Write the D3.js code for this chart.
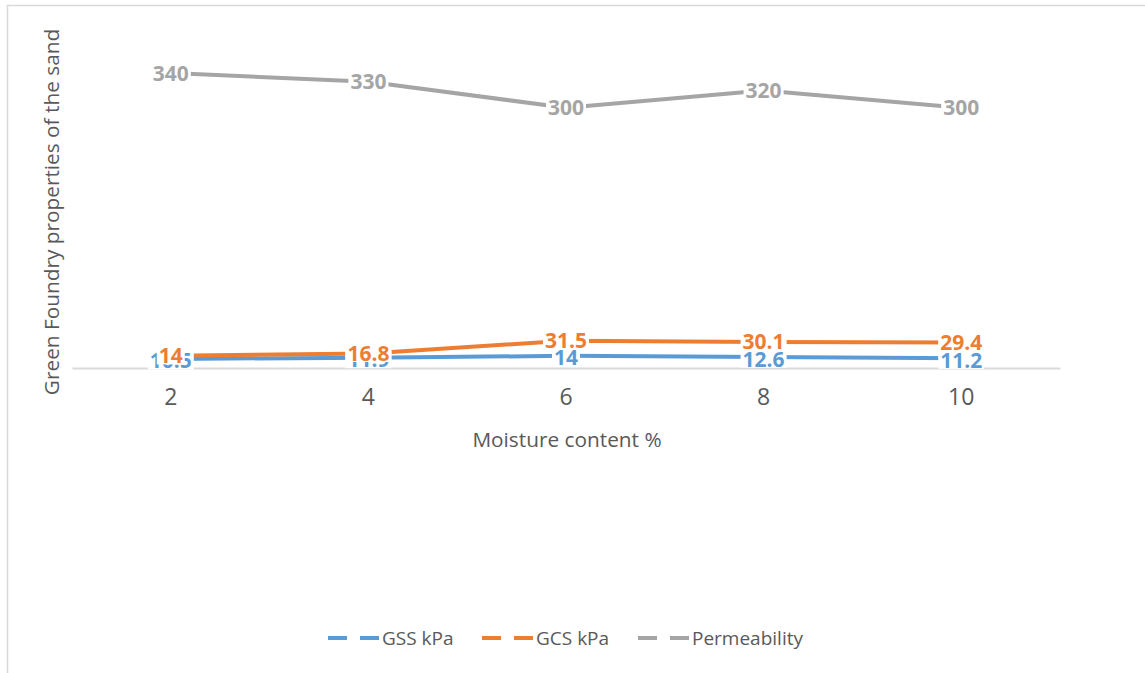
<!DOCTYPE html>
<html><head><meta charset="utf-8">
<script src="https://cdn.jsdelivr.net/npm/d3@7"></script>
<style>body{margin:0;background:#fff;} svg{display:block;font-family:"Open Sans","Noto Sans",sans-serif;}</style>
</head><body>
<svg id="c" width="1145" height="673"></svg>
<script>
const categories = [2, 4, 6, 8, 10];
const gss = [10.5, 11.9, 14, 12.6, 11.2];
const gcs = [14, 16.8, 31.5, 30.1, 29.4];
const permeability = [340, 330, 300, 320, 300];
const seriesNames = ["GSS kPa", "GCS kPa", "Permeability"];
const colors = ["#5b9bd5", "#ed7d31", "#a5a5a5"];
const yDomain = [0, 400];

(function(){
const FF = "'Open Sans','Noto Sans',sans-serif";
const svg = d3.select("#c");
svg.append("rect").attr("x",7.5).attr("y",5.5).attr("width",1200).attr("height",700)
  .attr("fill","#fff").attr("stroke","#d9d9d9").attr("stroke-width",1.5);

const pL = 72, pR = 1060, pT = 21, pB = 368;
const x = d3.scaleBand().domain(categories).range([pL, pR]);
const y = d3.scaleLinear().domain(yDomain).range([pB, pT]);

const xa = svg.append("g").attr("transform",`translate(0,${pB})`)
  .call(d3.axisBottom(x).tickSize(0).tickPadding(21));
xa.select(".domain").attr("stroke","#d9d9d9").attr("stroke-width",2);
xa.selectAll("text").attr("fill","#595959").style("font-size","23px").style("font-family",FF);

svg.append("text").attr("x",567).attr("y",447).attr("text-anchor","middle")
  .attr("fill","#595959").style("font-size","20.8px").text("Moisture content %");
svg.append("text").attr("transform","translate(59,212) rotate(-90)").attr("text-anchor","middle")
  .attr("fill","#595959").style("font-size","20.8px").text("Green Foundry properties of the sand");

const all = [gss, gcs, permeability];
const line = d3.line().x((d,i)=>x(categories[i])+x.bandwidth()/2).y(d=>y(d));
all.forEach((s,k)=>{
  svg.append("path").datum(s).attr("d",line).attr("fill","none")
    .attr("stroke",colors[k]).attr("stroke-width",4).attr("stroke-linejoin","round");
});
all.forEach((s,k)=>{
  s.forEach((v,i)=>{
    const cx = x(categories[i])+x.bandwidth()/2, cy = y(v) + (k===0 ? 2 : 0);
    const g = svg.append("g");
    const t = g.append("text").attr("x",cx).attr("y",cy).attr("dy","0.36em")
      .attr("text-anchor","middle").attr("fill",colors[k])
      .style("font-size","21px").style("font-weight","bold").text(v);
    const bb = t.node().getBBox();
    g.insert("rect","text").attr("x",bb.x-2).attr("y",bb.y+5).attr("width",bb.width+4)
      .attr("height",bb.height-10).attr("fill","#fff");
  });
});

const legX = [328, 482, 638];
seriesNames.forEach((n,k)=>{
  const lx = legX[k], ly = 638;
  const g = svg.append("g");
  g.append("line").attr("x1",lx).attr("x2",lx+19).attr("y1",ly).attr("y2",ly)
    .attr("stroke",colors[k]).attr("stroke-width",4);
  g.append("line").attr("x1",lx+32).attr("x2",lx+51).attr("y1",ly).attr("y2",ly)
    .attr("stroke",colors[k]).attr("stroke-width",4);
  g.append("text").attr("x",lx+54).attr("y",ly).attr("dy","0.36em")
    .attr("fill","#595959").style("font-size","19px").text(n);
});
})();
</script>
</body></html>
